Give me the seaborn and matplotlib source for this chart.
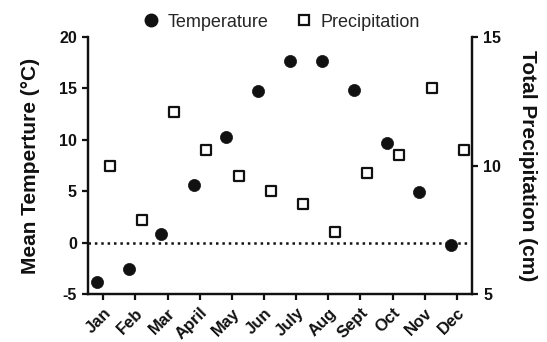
import numpy as np
import matplotlib
matplotlib.use("Agg")
import matplotlib.pyplot as plt
import seaborn as sns
from matplotlib.lines import Line2D

months = ["Jan", "Feb", "Mar", "April", "May", "Jun",
          "July", "Aug", "Sept", "Oct", "Nov", "Dec"]
temperature = [-3.8, -2.6, 0.8, 5.6, 10.3, 14.7, 17.7, 17.7, 14.8, 9.7, 4.9, -0.2]
precipitation = [10.0, 7.9, 12.1, 10.6, 9.6, 9.0, 8.5, 7.4, 9.7, 10.4, 13.0, 10.6]

sns.set_style("ticks")
plt.rcParams["font.family"] = ["Liberation Sans", "DejaVu Sans"]
plt.rcParams["axes.unicode_minus"] = False

fig = plt.figure(figsize=(5.47, 3.42), dpi=100)
ax = fig.add_axes([0.161, 0.140, 0.702, 0.752])
ax2 = ax.twinx()

idx = np.arange(len(months))

# temperature circles a bit left of each tick, precipitation squares a bit right
sns.scatterplot(x=idx - 0.19, y=temperature, ax=ax, marker="o", s=76,
                color="#111111", edgecolor="#111111", linewidth=0.5, zorder=3)
sns.scatterplot(x=idx + 0.21, y=precipitation, ax=ax2, marker="s", s=52,
                facecolor="white", edgecolor="#111111", linewidth=1.6, zorder=3)

ax.axhline(0, color="#111111", linestyle=(0, (1, 1.55)), linewidth=1.8, zorder=1)

ax.set_xlim(-0.47, 11.47)
ax.set_ylim(-5, 20)
ax2.set_ylim(5, 15)
ax.set_yticks([-5, 0, 5, 10, 15, 20])
ax2.set_yticks([5, 10, 15])
ax.set_xticks(idx)
ax.set_xticklabels(months, rotation=45, ha="right", rotation_mode="anchor")

for a in (ax, ax2):
    a.spines["top"].set_visible(False)
    for s in ("left", "right", "bottom"):
        a.spines[s].set_linewidth(1.6)
        a.spines[s].set_color("#111111")
    a.tick_params(width=1.6, length=4.5, color="#111111", labelsize=11.5,
                  pad=3.5, labelcolor="#111111")
    for lab in a.get_xticklabels() + a.get_yticklabels():
        lab.set_fontweight("bold")
ax.tick_params(axis="x", labelsize=12)

ax.set_ylabel("Mean Temperture (°C)", fontsize=15, fontweight="bold",
              labelpad=14, color="#111111")
ax2.set_ylabel("Total Precipitation (cm)", fontsize=15, fontweight="bold",
               rotation=270, labelpad=26, color="#111111")

handles = [
    Line2D([], [], marker="o", linestyle="", color="#111111", markersize=9),
    Line2D([], [], marker="s", linestyle="", markerfacecolor="white",
           markeredgecolor="#111111", markeredgewidth=1.6, markersize=7),
]
fig.legend(handles, ["Temperature", "Precipitation"], loc="center",
           bbox_to_anchor=(0.514, 0.935), ncol=2, frameon=False, fontsize=13,
           handlelength=1.0, handletextpad=0.4, columnspacing=1.5)

fig.savefig("out.png", dpi=100)
